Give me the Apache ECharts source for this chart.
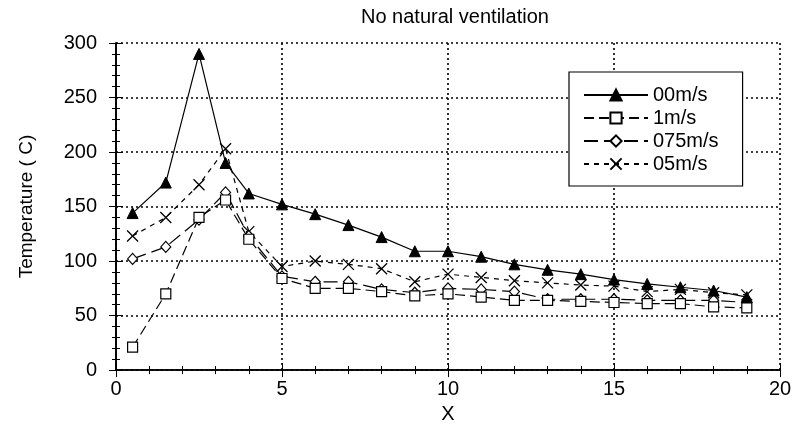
<!DOCTYPE html>
<html>
<head>
<meta charset="utf-8">
<script src="https://cdn.jsdelivr.net/npm/echarts@6/dist/echarts.min.js"></script>
<style>html,body{margin:0;padding:0;background:#fff}#c{width:796px;height:429px}</style>
</head>
<body>
<div id="c"></div>
<script>
const xVals = [0.5,1.5,2.5,3.3,4,5,6,7,8,9,10,11,12,13,14,15,16,17,18,19];
const v00  = [144,172,290,190,162,152,143,133,122,109,109,104,97,92,88,83,79,76,73,67];
const v1   = [21,70,140,156,120,84,75,75,72,68,70,67,64,64,63,62,61,61,58,57];
const v075 = [102,113,138,163,123,86,81,81,74,71,75,74,72,65,65,65,64,64,64,62];
const v05  = [123,140,170,203,127,95,100,97,93,81,88,85,82,80,78,77,72,74,71,69];
const seriesNames = ['00m/s','1m/s','075m/s','05m/s'];
const titleText = 'No natural ventilation';
const xName = 'X';
const yName = 'Temperature ( C)';

const FONT = "'Liberation Sans', Arial, sans-serif";
const pair = v => xVals.map((x,i)=>[x, v[i]]);

const chart = echarts.init(document.getElementById('c'), null, {renderer:'canvas'});
const axisCommon = {
  axisLine:{show:true, lineStyle:{color:'#000', width:1.6}},
  axisTick:{show:true, inside:true, length:7, lineStyle:{color:'#000', width:1}},
  minorTick:{show:true, splitNumber:5, length:4, lineStyle:{color:'#000', width:1}},
};
const gridLine = {show:true, lineStyle:{color:'#000', type:[2,3], width:1.6}};

chart.setOption({
  animation:false,
  backgroundColor:'#fff',
  title:{text:titleText, left:356, top:2, textStyle:{fontFamily:FONT, fontSize:20, fontWeight:'normal', color:'#000'}},
  grid:{left:116, right:16, top:43, bottom:58},
  legend:{
    orient:'vertical', left:569, top:72,
    backgroundColor:'#fff', borderColor:'#000', borderWidth:1.2,
    padding:[13,24,12,14], itemGap:3, itemWidth:64, itemHeight:14,
    textStyle:{fontFamily:FONT, fontSize:20, color:'#000'},
    data:seriesNames
  },
  xAxis:[
    Object.assign({type:'value', min:0, max:20, interval:5, position:'bottom',
      name:xName, nameLocation:'middle', nameGap:33,
      nameTextStyle:{fontFamily:FONT, fontSize:20, color:'#000'},
      axisLabel:{fontFamily:FONT, fontSize:20, color:'#000', margin:9},
      splitLine:gridLine}, axisCommon),
    Object.assign({type:'value', min:0, max:20, interval:5, position:'top',
      axisLabel:{show:false}, splitLine:{show:false}}, axisCommon)
  ],
  yAxis:[
    Object.assign({type:'value', min:0, max:300, interval:50, position:'left',
      name:yName, nameLocation:'middle', nameGap:80,
      nameTextStyle:{fontFamily:FONT, fontSize:19, color:'#000'},
      axisLabel:{fontFamily:FONT, fontSize:20, color:'#000', margin:19},
      splitLine:gridLine}, axisCommon),
    Object.assign({type:'value', min:0, max:300, interval:50, position:'right',
      axisLabel:{show:false}, splitLine:{show:false}}, axisCommon)
  ],
  series:[
    {name:seriesNames[0], type:'line', data:pair(v00), symbol:'triangle', symbolSize:11,
     lineStyle:{color:'#000', width:1.2, type:'solid'},
     itemStyle:{color:'#000', borderColor:'#000', borderWidth:1}, z:5},
    {name:seriesNames[1], type:'line', data:pair(v1), symbol:'rect', symbolSize:10,
     lineStyle:{color:'#000', width:1.2, type:[10,5]},
     itemStyle:{color:'#fff', borderColor:'#000', borderWidth:1.2}, z:4},
    {name:seriesNames[2], type:'line', data:pair(v075), symbol:'diamond', symbolSize:[10,11],
     lineStyle:{color:'#000', width:1.2, type:[14,6]},
     itemStyle:{color:'#fff', borderColor:'#000', borderWidth:1.2}, z:3},
    {name:seriesNames[3], type:'line', data:pair(v05), symbol:'path://M0,0L10,10M10,0L0,10', symbolSize:11,
     lineStyle:{color:'#000', width:1.2, type:[5,5]},
     itemStyle:{color:'#000', borderColor:'#000', borderWidth:1.3}, z:2}
  ]
});
</script>
</body>
</html>
